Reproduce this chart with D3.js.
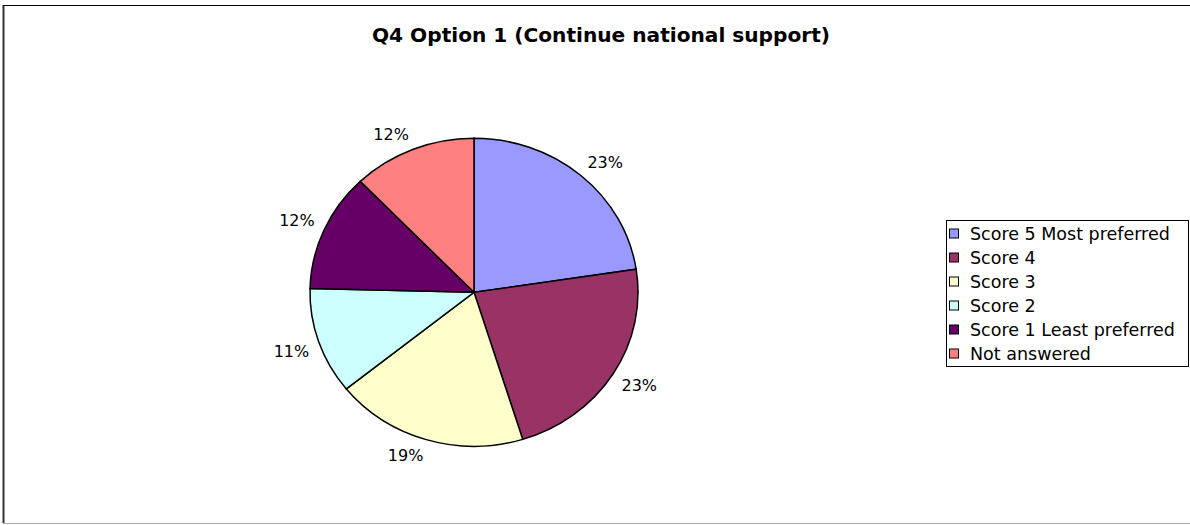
<!DOCTYPE html>
<html>
<head>
<meta charset="utf-8">
<script src="https://d3js.org/d3.v7.min.js"></script>
<style>
  body { margin: 0; background: #fff; }
  text { font-family: "DejaVu Sans", Verdana, sans-serif; }
</style>
</head>
<body>
<svg id="chart" width="1190" height="525"></svg>
<script>
// values (percent)
const categories = ["Score 5 Most preferred", "Score 4", "Score 3", "Score 2", "Score 1 Least preferred", "Not answered"];
const values = [22.6, 22.6, 19.0, 11.2, 12.4, 12.2];
const labels = ["23%", "23%", "19%", "11%", "12%", "12%"];
const colors = ["#9999FF", "#993366", "#FFFFCC", "#CCFFFF", "#660066", "#FF8080"];

const data = categories.map((c, i) => ({name: c, value: values[i], label: labels[i], color: colors[i]}));

const svg = d3.select("#chart");

// frame
svg.append("line").attr("x1", 3.5).attr("y1", 5).attr("x2", 3.5).attr("y2", 523)
  .attr("stroke", "#333").attr("stroke-width", 2);
svg.append("line").attr("x1", 3).attr("y1", 5.5).attr("x2", 1190).attr("y2", 5.5)
  .attr("stroke", "#000");
svg.append("line").attr("x1", 3).attr("y1", 523.5).attr("x2", 1190).attr("y2", 523.5)
  .attr("stroke", "#aaa");

// title
svg.append("text")
  .attr("x", 601).attr("y", 42)
  .attr("text-anchor", "middle")
  .attr("textLength", 458).attr("lengthAdjust", "spacingAndGlyphs")
  .style("font-size", "19px").style("font-weight", "bold")
  .text("Q4 Option 1 (Continue national support)");

// pie (slightly squashed vertically like the original)
const cx = 474, cy = 292.3, rx = 164, ry = 154;
const pie = d3.pie().sort(null).value(d => d.value);
const arcs = pie(data);
const arc = d3.arc().innerRadius(0).outerRadius(rx);

const g = svg.append("g")
  .attr("transform", `translate(${cx},${cy}) scale(1,${ry / rx})`);

g.selectAll("path").data(arcs).enter().append("path")
  .attr("d", arc)
  .attr("fill", d => d.data.color)
  .attr("stroke", "#000")
  .attr("stroke-width", 1.5)
  .attr("vector-effect", "non-scaling-stroke");

// percentage labels: corner of the label box sits just outside the slice edge
const gap = 10, hh = 6;
const pct = svg.selectAll(".pct").data(arcs).enter().append("text")
  .attr("class", "pct")
  .attr("text-anchor", "middle")
  .style("font-size", "16px")
  .attr("fill", "#000")
  .text(d => d.data.label);

pct.each(function(d) {
  const a = (d.startAngle + d.endAngle) / 2;
  const s = Math.sin(a), c = -Math.cos(a);
  const hw = this.getComputedTextLength() / 2;
  const ex = cx + s * rx + s * gap;
  const ey = cy + c * ry + c * gap;
  const x = ex + Math.sign(s) * hw;
  const y = ey + Math.sign(c) * hh;
  d3.select(this).attr("x", x).attr("y", y + hh);
});

// legend
const lg = svg.append("g").attr("transform", "translate(946,220)");
lg.append("rect").attr("x", 0.5).attr("y", 0.5).attr("width", 242).attr("height", 146)
  .attr("fill", "#fff").attr("stroke", "#000");
const rows = lg.selectAll(".row").data(data).enter().append("g")
  .attr("transform", (d, i) => `translate(0,${13.5 + i * 24})`);
rows.append("rect").attr("x", 3.5).attr("y", -4.5).attr("width", 9).attr("height", 9)
  .attr("fill", d => d.color).attr("stroke", "#000");
rows.append("text").attr("x", 24).attr("y", 6.5)
  .style("font-size", "17.5px")
  .text(d => d.name);
</script>
</body>
</html>
